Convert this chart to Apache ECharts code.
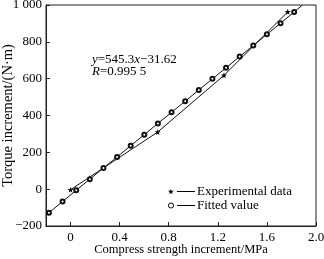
<!DOCTYPE html>
<html>
<head>
<meta charset="utf-8">
<script src="https://cdn.jsdelivr.net/npm/echarts@6/dist/echarts.min.js"></script>
<style>
html,body{margin:0;padding:0;background:#fff;}
#c{width:324px;height:259px;}
</style>
</head>
<body>
<div id="c"></div>
<script>
// ---- data ----
var expName = 'Experimental data';
var fitName = 'Fitted value';
var expX = [0, 0.71, 1.25, 1.77];
var expY = [-3, 310, 618, 963];
var fitX = [-0.176, -0.065, 0.046, 0.157, 0.268, 0.379, 0.49, 0.601, 0.712, 0.823, 0.934, 1.045, 1.156, 1.267, 1.378, 1.489, 1.6, 1.711, 1.822];
var fitY = [-128, -67, -6, 54, 115, 175, 236, 296, 357, 417, 478, 538, 599, 659, 720, 780, 841, 901, 962];
var fitLineEndX = 1.89;
var fitLineEndY = 1000;
var xTicks = [0, 0.4, 0.8, 1.2, 1.6, 2.0];
var xMin = -0.2, xMax = 2.0;
var yMin = -200, yMax = 1000, yStep = 200;
var xTitle = 'Compress strength increment/MPa';
var yTitle = 'Torque increment/(N\u00b7m)';
var eqSlope = '545.3', eqIntercept = '31.62', eqR = '0.995 5';

// ---- chart ----
var FONT = "'Liberation Serif','Times New Roman',serif";
var starPath = 'path://M3,0 L3.705,2.029 L5.853,2.073 L4.141,3.371 L4.763,5.427 L3,4.2 L1.237,5.427 L1.859,3.371 L0.147,2.073 L2.295,2.029 Z';
var starLegend = 'path://M3,0 L3.705,2.029 L5.853,2.073 L4.141,3.371 L4.763,5.427 L3,4.2 L1.237,5.427 L1.859,3.371 L0.147,2.073 L2.295,2.029 Z M9,2.3 L27,2.3 L27,3.1 L9,3.1 Z';
var ringLegend = 'path://M6,3 L5.598,4.5 L4.5,5.598 L3,6 L1.5,5.598 L0.402,4.5 L0,3 L0.402,1.5 L1.5,0.402 L3,0 L4.5,0.402 L5.598,1.5 Z ' +
  'M5.1,3 L4.819,1.95 L4.05,1.181 L3,0.9 L1.95,1.181 L1.181,1.95 L0.9,3 L1.181,4.05 L1.95,4.819 L3,5.1 L4.05,4.819 L4.819,4.05 Z ' +
  'M9,2.6 L27,2.6 L27,3.4 L9,3.4 Z';

var expData = expX.map(function (x, i) { return [x, expY[i]]; });
var fitData = fitX.map(function (x, i) { return [x, fitY[i]]; });
fitData.push({ value: [fitLineEndX, fitLineEndY], symbol: 'none' });

var chart = echarts.init(document.getElementById('c'), null, { renderer: 'canvas' });
chart.setOption({
  backgroundColor: '#fff',
  animation: false,
  textStyle: { fontFamily: FONT, color: '#000' },
  grid: {
    left: 46, right: 8, top: 5, bottom: 33, containLabel: false, outerBoundsMode: 'none',
    show: true, borderColor: '#222', borderWidth: 1, backgroundColor: 'transparent'
  },
  xAxis: {
    type: 'value', min: xMin, max: xMax,
    name: xTitle, nameLocation: 'middle', nameGap: 17, nameMoveOverlap: false,
    nameTextStyle: { fontFamily: FONT, fontSize: 12.5, color: '#000' },
    axisLine: { show: true, onZero: false, lineStyle: { color: '#222', width: 1 } },
    axisTick: { show: true, inside: true, length: 4, customValues: xTicks, lineStyle: { color: '#222' } },
    axisLabel: {
      customValues: xTicks, margin: 5, fontFamily: FONT, fontSize: 13, color: '#000',
      formatter: function (v) { return v === 0 ? '0' : v.toFixed(1); }
    },
    splitLine: { show: false }
  },
  yAxis: {
    type: 'value', min: yMin, max: yMax, interval: yStep,
    name: yTitle, nameLocation: 'middle', nameGap: 30, nameMoveOverlap: false,
    nameTextStyle: { fontFamily: FONT, fontSize: 14.5, color: '#000' },
    axisLine: { show: true, onZero: false, lineStyle: { color: '#222', width: 1 } },
    axisTick: { show: true, inside: true, length: 4, lineStyle: { color: '#222' } },
    axisLabel: {
      margin: 4, fontFamily: FONT, fontSize: 13, color: '#000',
      formatter: function (v) {
        if (v === 1000) return '1 000';
        if (v < 0) return '\u2212' + Math.abs(v);
        return String(v);
      }
    },
    splitLine: { show: false }
  },
  legend: {
    orient: 'vertical', left: 168, top: 185, padding: 0,
    itemWidth: 27, itemHeight: 6, itemGap: 1,
    textStyle: { fontFamily: FONT, fontSize: 13, color: '#000', lineHeight: 12, padding: [0, 0, 0, -3] },
    data: [
      { name: expName, icon: starLegend, itemStyle: { color: '#000', borderWidth: 0 } },
      { name: fitName, icon: ringLegend, itemStyle: { color: '#000', borderWidth: 0 } }
    ]
  },
  graphic: [
    {
      type: 'text', left: 92, top: 53,
      style: {
        text: '{i|y}=' + eqSlope + '{i|x}\u2212' + eqIntercept + '\n{i|R}=' + eqR,
        font: '13px ' + FONT, fill: '#000', lineHeight: 12,
        rich: { i: { fontStyle: 'italic', fontFamily: FONT, fontSize: 13, fill: '#000', lineHeight: 12 } }
      }
    }
  ],
  series: [
    {
      name: expName, type: 'line', data: expData,
      symbol: starPath, symbolSize: 6, showAllSymbol: true,
      lineStyle: { color: '#111', width: 1 },
      itemStyle: { color: '#000' }
    },
    {
      name: fitName, type: 'line', data: fitData,
      symbol: 'emptyCircle', symbolSize: 4, showAllSymbol: true,
      lineStyle: { color: '#111', width: 1 },
      itemStyle: { color: '#111', borderWidth: 1 }
    }
  ]
});
</script>
</body>
</html>
